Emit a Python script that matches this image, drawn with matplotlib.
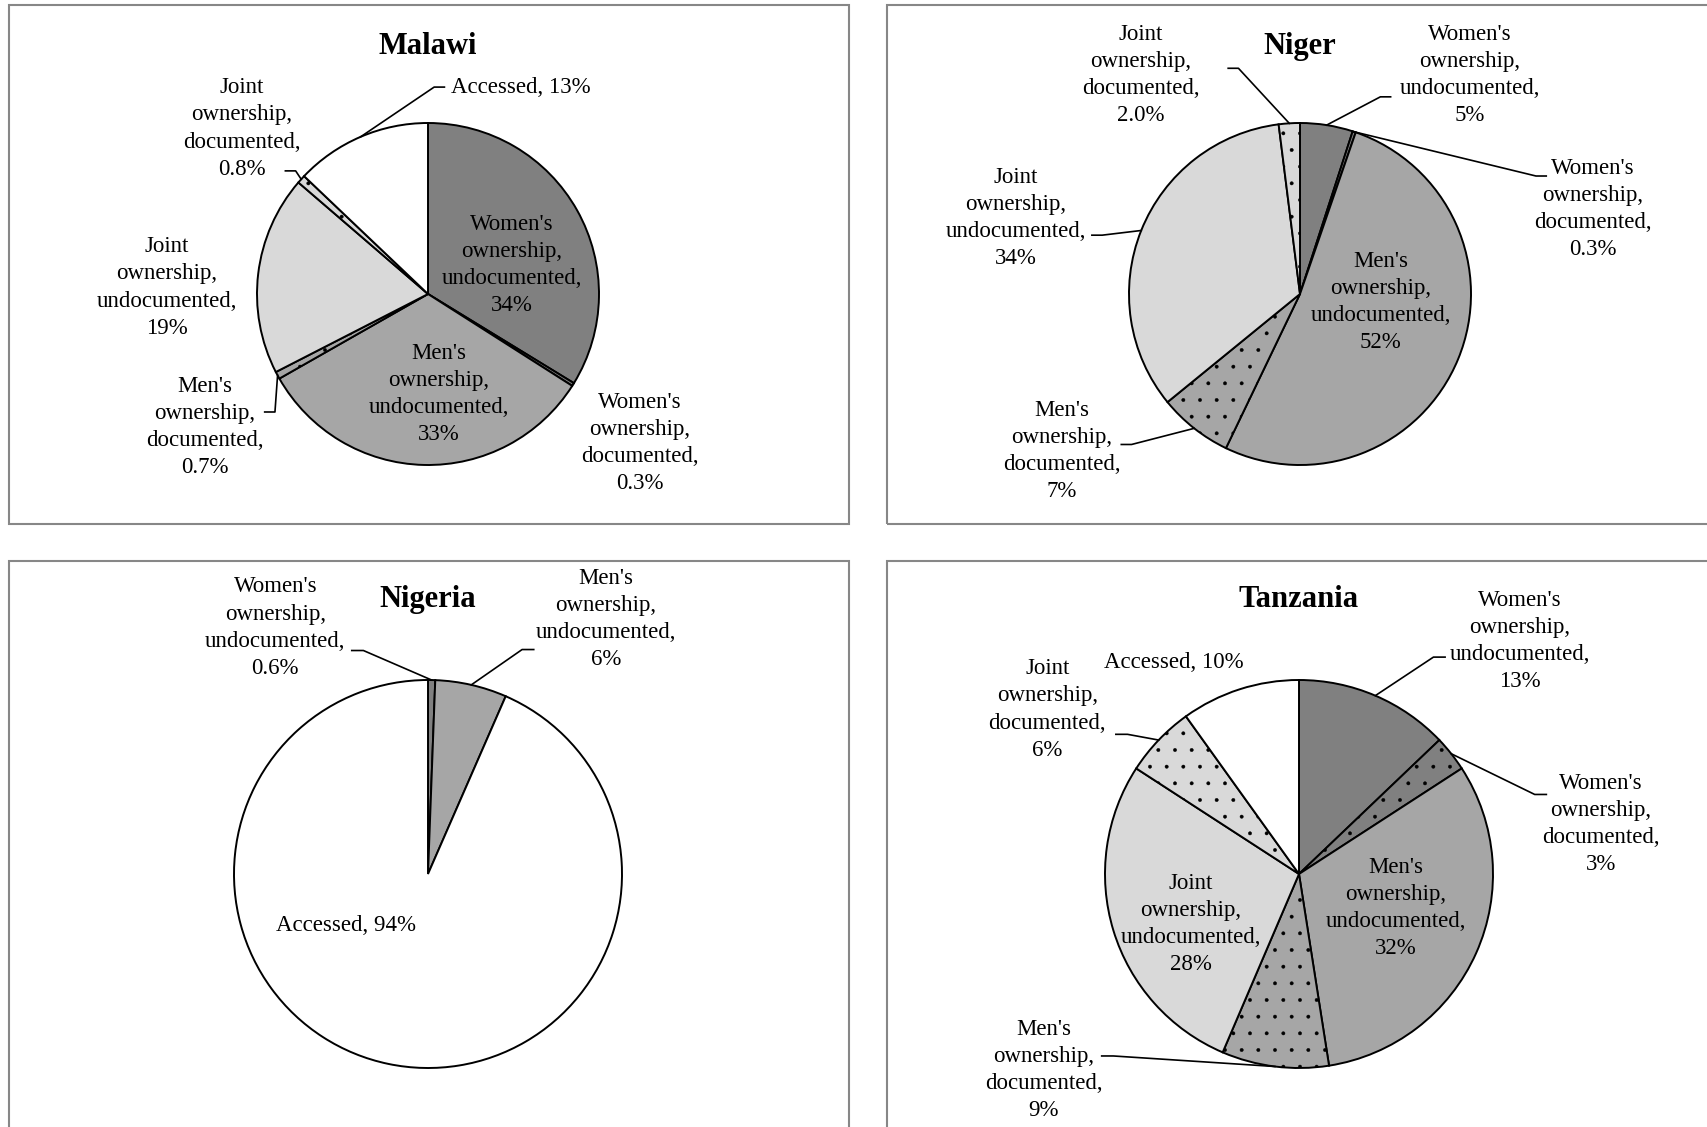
import numpy as np
import matplotlib.pyplot as plt
from matplotlib.patches import Rectangle

plt.rcParams['font.family'] = ['Liberation Serif', 'DejaVu Serif']
plt.rcParams['hatch.linewidth'] = 0.3

# categories go clockwise from 12 o'clock
categories = ["Women's\nownership,\nundocumented,", "Women's\nownership,\ndocumented,",
              "Men's\nownership,\nundocumented,", "Men's\nownership,\ndocumented,",
              "Joint\nownership,\nundocumented,", "Joint\nownership,\ndocumented,",
              "Accessed,"]
colors = ['#808080', '#808080', '#a6a6a6', '#a6a6a6', '#d9d9d9', '#d9d9d9', '#ffffff']
hatches = ['', '.', '', '.', '', '.', '']

malawi = [34, 0.3, 33, 0.7, 19, 0.8, 13]
niger = [5, 0.3, 52, 7, 34, 2.0, 0]
nigeria = [0.6, 0, 6, 0, 0, 0, 94]
tanzania = [13, 3, 32, 9, 28, 6, 10]

W, H = 1707, 1127
fig = plt.figure(figsize=(W / 100, H / 100), dpi=100)

# panel boxes in pixels: left, top, right, bottom
boxes = [(9, 5, 849, 524), (887, 5, 1720, 524), (9, 561, 849, 1140), (887, 561, 1720, 1140)]
for l, t, r, b in boxes:
    fig.patches.append(Rectangle((l / W, 1 - b / H), (r - l) / W, (b - t) / H,
                                 transform=fig.transFigure, fill=False,
                                 ec='#878787', lw=1.5))

# per panel: name, values, centre px, radius px, label spots, leader starts
panels = [
    ('Malawi', malawi, (428, 294), 171,
     {0: (0.49, 0.17), 1: (1.24, -0.87), 2: (0.064, -0.586), 3: (-1.306, -0.777),
      4: (-1.529, 0.038), 5: (-1.089, 0.968), 6: (0.541, 1.21)},
     {3: (-0.955, -0.69), 5: (-0.834, 0.72), 6: (0.096, 1.21)}),
    ('Niger', niger, (1300, 294), 171,
     {0: (0.994, 1.28), 1: (1.713, 0.497), 2: (0.471, -0.045), 3: (-1.395, -0.917),
      4: (-1.662, 0.446), 5: (-0.93, 1.28)},
     {0: (0.53, 1.153), 1: (1.44, 0.69), 3: (-1.045, -0.88), 4: (-1.217, 0.344),
      5: (-0.42, 1.32)}),
    ('Nigeria', nigeria, (428, 874), 194,
     {0: (-0.787, 1.27), 2: (0.916, 1.315), 6: (-0.421, -0.264)},
     {0: (-0.393, 1.152), 2: (0.545, 1.157)}),
    ('Tanzania', tanzania, (1299, 874), 194,
     {0: (1.14, 1.20), 1: (1.556, 0.258), 2: (0.5, -0.174), 3: (-1.315, -1.011),
      4: (-0.556, -0.258), 5: (-1.298, 0.848), 6: (-0.646, 1.09)},
     {0: (0.753, 1.118), 1: (1.275, 0.41), 3: (-1.017, -0.938), 5: (-0.944, 0.72)}),
]

for name, values, (cx, cy), rad, spots, leaders in panels:
    ax = fig.add_axes([(cx - rad) / W, (H - cy - rad) / H, 2 * rad / W, 2 * rad / H])
    idx = [i for i, v in enumerate(values) if v > 0]
    vals = [values[i] for i in idx]
    wedges, _ = ax.pie(vals, colors=[colors[i] for i in idx], startangle=90,
                       counterclock=False,
                       wedgeprops=dict(edgecolor='black', linewidth=1.4))
    for w, i in zip(wedges, idx):
        if hatches[i]:
            w.set_hatch(hatches[i])
    ax.set_xlim(-1, 1)
    ax.set_ylim(-1, 1)
    ax.set_aspect('equal')
    ax.axis('off')

    ax.text(0, 1.45 if rad < 180 else 1.416, name, ha='center', va='center',
            fontsize=22, fontweight='bold')

    for w, i in zip(wedges, idx):
        v = values[i]
        pct = f'{v:.1f}%' if v < 2.5 else f'{v:.0f}%'
        sep = ' ' if i == 6 else '\n'
        x, y = spots[i]
        ax.text(x, y, categories[i] + sep + pct, ha='center', va='center',
                fontsize=16.5, linespacing=1.38)
        if i in leaders:
            sx, sy = leaders[i]
            mid = np.deg2rad((w.theta1 + w.theta2) / 2)
            ex, ey = np.cos(mid), np.sin(mid)
            stub = sx - np.sign(sx) * 0.06
            ax.plot([sx, stub, ex], [sy, sy, ey], color='black', lw=1.2,
                    clip_on=False)

fig.savefig('out.png', dpi=100)
